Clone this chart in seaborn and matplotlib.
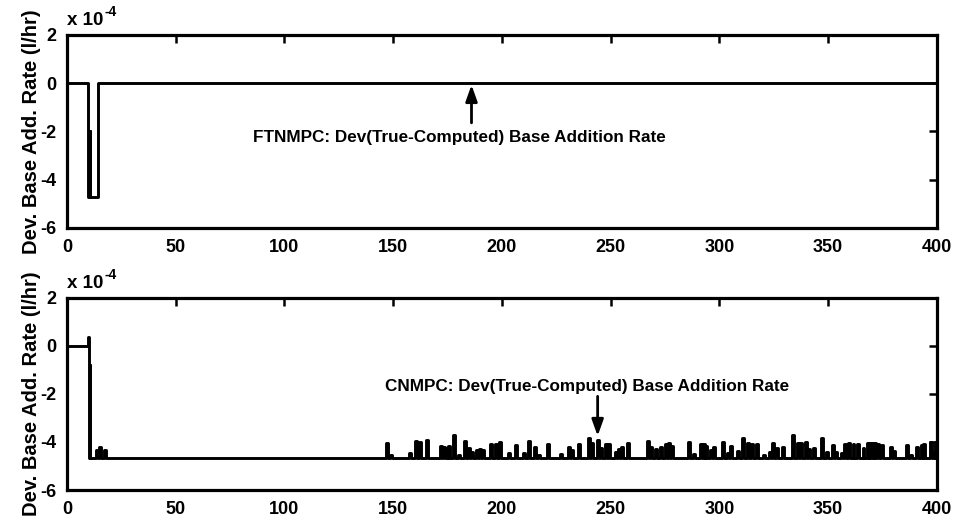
import numpy as np
import matplotlib
matplotlib.use("Agg")
import matplotlib.pyplot as plt
import seaborn as sns

# FTNMPC deviation (units of 1e-4 l/hr), step series
top_t = [0, 9.6, 10.4, 10.8, 14.2, 400]
top_v = [0, -4.7, -2.0, -4.7, 0, 0]

# CNMPC deviation: start transient, then baseline with spikes
cn_start_t = [0, 9.8, 10.1, 10.5, 10.7]
cn_start_v = [0, 0.35, -4.65, -0.8, -4.65]
cn_base = -4.65
spike_t = [13.2, 14.9, 17.0,
           146.7, 148.5, 157.4, 160.0, 162.0, 164.9, 171.5, 173.0, 174.5, 175.4,
           177.3, 180.0, 182.5, 184.5, 185.6, 188.0, 189.5, 191.0, 194.5, 196.7,
           198.8, 203.0, 206.0, 209.8, 212.0, 214.7, 216.7, 220.8, 226.7,
           230.5, 231.7, 234.8, 239.4, 240.9, 243.5, 245.0, 247.4, 248.6, 252.0,
           253.5, 254.7, 257.3, 266.5, 268.0, 270.3, 272.6, 275.0, 276.2, 277.7,
           285.7, 288.0, 291.0, 292.6, 293.5, 295.6, 297.1, 301.0, 303.3, 304.8,
           307.9, 310.2, 312.5, 314.5, 316.8, 320.2, 322.9, 324.4, 326.0, 328.6,
           333.2, 335.5, 337.0, 339.3, 340.8, 343.1, 346.5, 349.0, 351.6, 353.1,
           355.7, 357.2, 359.2, 361.2, 363.4, 365.8, 367.7, 368.9, 370.0, 371.0,
           372.3, 374.1, 378.4, 379.9, 385.7, 387.6, 390.3, 392.5, 393.7, 396.8,
           398.0, 399.1]
spike_v = [-4.33, -4.2, -4.33,
           -4.05, -4.55, -4.47, -3.95, -4.0, -3.9, -4.15, -4.19, -4.26, -4.17,
           -3.71, -4.54, -3.94, -4.26, -4.4, -4.35, -4.3, -4.33, -4.08, -4.08,
           -3.99, -4.47, -4.13, -4.44, -3.94, -4.22, -4.54, -4.08, -4.5,
           -4.22, -4.33, -4.08, -3.85, -4.05, -3.92, -4.26, -4.08, -4.08, -4.4,
           -4.3, -4.22, -4.03, -3.94, -4.19, -4.3, -4.22, -4.08, -4.03, -4.17,
           -3.99, -4.5, -4.08, -4.08, -4.17, -4.33, -4.19, -3.99, -4.44, -4.17,
           -4.36, -3.85, -4.03, -4.08, -4.08, -4.54, -4.4, -4.03, -4.26, -4.22,
           -3.71, -4.03, -4.03, -3.99, -4.3, -4.26, -3.82, -4.4, -4.13, -4.4,
           -4.44, -4.08, -4.05, -4.08, -4.08, -4.26, -4.03, -4.03, -4.03, -4.05,
           -4.08, -4.13, -4.22, -4.36, -4.13, -4.54, -4.19, -4.13, -4.08, -3.99,
           -4.4, -3.99]
spike_w = 0.9

xticks = [0, 50, 100, 150, 200, 250, 300, 350, 400]
yticks = [-6, -4, -2, 0, 2]

# build bottom step series
bt = list(cn_start_t)
bv = list(cn_start_v)
for t, v in zip(spike_t, spike_v):
    bt += [t, t + spike_w]
    bv += [v, cn_base]
bt.append(400)
bv.append(cn_base)

sns.set_style("white")
plt.rcParams['font.family'] = ['Liberation Sans', 'DejaVu Sans']
plt.rcParams['font.weight'] = 'bold'
plt.rcParams['axes.unicode_minus'] = False
plt.rcParams['text.color'] = 'black'
plt.rcParams['axes.labelcolor'] = 'black'

fig = plt.figure(figsize=(9.57, 5.18), dpi=100)
ax1 = fig.add_axes([0.070, 0.560, 0.909, 0.373])
ax2 = fig.add_axes([0.070, 0.054, 0.909, 0.371])

sns.lineplot(x=top_t, y=top_v, drawstyle='steps-post', color='black',
             linewidth=2.1, estimator=None, sort=False, ax=ax1)
sns.lineplot(x=bt, y=bv, drawstyle='steps-post', color='black',
             linewidth=2.1, estimator=None, sort=False, ax=ax2)

for ax in (ax1, ax2):
    ax.set_xlim(0, 400)
    ax.set_ylim(-6, 2)
    ax.set_xticks(xticks)
    ax.set_yticks(yticks)
    ax.set_xticklabels([str(x) for x in xticks], fontsize=13, fontweight='bold')
    ax.set_yticklabels([str(y) for y in yticks], fontsize=13, fontweight='bold')
    ax.tick_params(direction='in', length=6, width=1.8, top=True, right=True,
                   colors='black')
    ax.tick_params(axis='x', pad=8)
    ax.tick_params(axis='y', pad=8)
    for s in ax.spines.values():
        s.set_linewidth(2.3)
        s.set_color('black')
    ax.set_ylabel('Dev. Base Add. Rate (l/hr)', fontsize=14.5, fontweight='bold',
                  labelpad=-1)
    t1 = ax.text(0.0, 1.03, 'x 10', transform=ax.transAxes,
                 fontsize=13.5, fontweight='bold', va='bottom', ha='left')
    ax.annotate('-4', xy=(1, 1), xycoords=t1, xytext=(1, -5),
                textcoords='offset points', fontsize=10, fontweight='bold',
                ha='left', va='bottom')

ax1.text(180.5, -2.25, 'FTNMPC: Dev(True-Computed) Base Addition Rate',
         ha='center', va='center', fontsize=12.3, fontweight='bold')
ax1.annotate('', xy=(186, -0.08), xytext=(186, -1.65),
             arrowprops=dict(arrowstyle='-|>,head_width=0.25,head_length=0.7',
                             color='black', lw=2, shrinkA=0, shrinkB=0,
                             mutation_scale=14))
ax2.text(239, -1.71, 'CNMPC: Dev(True-Computed) Base Addition Rate',
         ha='center', va='center', fontsize=12.3, fontweight='bold')
ax2.annotate('', xy=(244, -3.75), xytext=(244, -2.1),
             arrowprops=dict(arrowstyle='-|>,head_width=0.25,head_length=0.7',
                             color='black', lw=2, shrinkA=0, shrinkB=0,
                             mutation_scale=14))

fig.savefig('out.png', dpi=100)
